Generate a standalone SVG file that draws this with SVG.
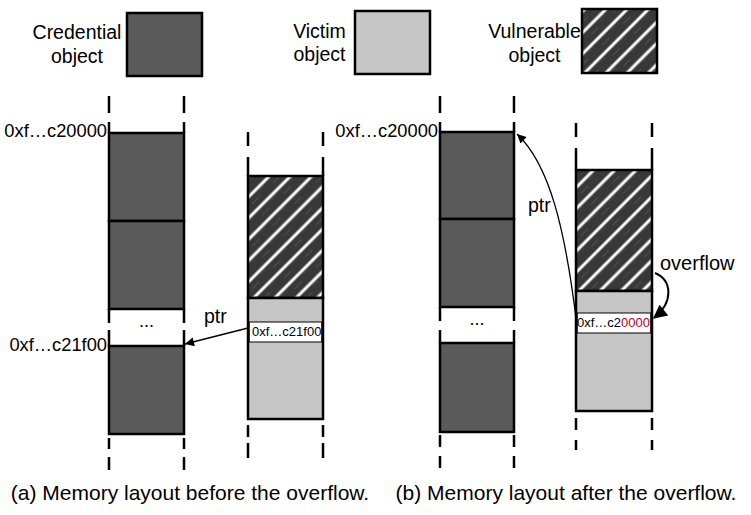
<svg xmlns="http://www.w3.org/2000/svg" width="751" height="515" viewBox="0 0 751 515">
<style>
text{font-family:"Liberation Sans",Arial,Helvetica,sans-serif;fill:#000}
.leg{font-size:19.5px;text-anchor:middle}
.addr{font-size:18.3px;text-anchor:end}
.cap{font-size:21px;text-anchor:middle}
.lbl{font-size:19.5px}
.fld{font-size:13px}
.cred{fill:#5a5a5a;stroke:#000;stroke-width:2.5}
.vic{fill:#c6c6c6;stroke:#000;stroke-width:2.5}
.vul{fill:url(#hatch);stroke:#000;stroke-width:2.5}
.field{fill:#fff;stroke:#000;stroke-width:1}
.dash{fill:none;stroke:#000;stroke-width:2.5}
.conn{fill:none;stroke:#000;stroke-width:1.3}
</style>
<defs>
<pattern id="hatch" patternUnits="userSpaceOnUse" width="30" height="15" patternTransform="rotate(-45)">
<rect width="30" height="15" fill="#fff"/>
<rect x="0" y="1.5" width="30" height="12" fill="#383838"/>
<line x1="4" y1="7.5" x2="14" y2="7.5" stroke="#5c5c5c" stroke-width="0.7"/>
<line x1="19" y1="3" x2="27" y2="3" stroke="#4c4c4c" stroke-width="0.6"/>
</pattern>
<marker id="arr" viewBox="0 0 10 10" refX="10" refY="5" markerWidth="11" markerHeight="9" markerUnits="userSpaceOnUse" orient="auto">
<path d="M0,0 L10,5 L0,10 z" fill="#000"/>
</marker>
<marker id="arrBig" viewBox="0 0 10 10" refX="9" refY="5" markerWidth="16" markerHeight="14" markerUnits="userSpaceOnUse" orient="auto">
<path d="M0,0 L10,5 L0,10 z" fill="#000"/>
</marker>
</defs>

<g id="legend-credential">
<text class="leg" x="77" y="39">Credential</text>
<text class="leg" x="77" y="63">object</text>
<rect class="cred" x="127" y="13" width="75" height="63"/>
</g>
<g id="legend-victim">
<text class="leg" x="319.5" y="38">Victim</text>
<text class="leg" x="319.5" y="61">object</text>
<rect class="vic" x="355" y="11" width="75" height="63"/>
</g>
<g id="legend-vulnerable">
<text class="leg" x="534.5" y="38">Vulnerable</text>
<text class="leg" x="534.5" y="62">object</text>
<rect class="vul" x="582" y="9" width="75" height="64"/>
</g>

<!-- Panel (a) -->
<g id="a-credential-column">
<rect class="cred" x="109" y="133" width="75" height="88"/>
<rect class="cred" x="109" y="221" width="75" height="88"/>
<rect class="cred" x="109" y="346" width="75" height="88"/>
<path class="dash" d="M109 96V113M109 122V133M184 96V113M184 122V133M109 309V323M109 330V346M184 309V323M184 330V346M109 438V449M109 457V470M184 438V449M184 457V470"/>
<text x="146.5" y="327" font-size="18" text-anchor="middle">...</text>
<text class="addr" x="107" y="137">0xf…c20000</text>
<text class="addr" x="107" y="351">0xf…c21f00</text>
</g>
<g id="a-victim-column">
<rect class="vul" x="248" y="176" width="75" height="122"/>
<rect class="vic" x="248" y="298" width="75" height="121"/>
<rect class="field" x="249.3" y="322" width="72.4" height="20"/>
<text class="fld" x="252" y="336">0xf…c21f00</text>
<path class="dash" d="M248 132V146M248 157V176M323 132V146M323 157V176M248 425V437M248 443V458M323 425V437M323 443V458"/>
</g>

<!-- Panel (b) -->
<g id="b-credential-column">
<rect class="cred" x="440" y="132" width="74" height="87"/>
<rect class="cred" x="440" y="219" width="74" height="88"/>
<rect class="cred" x="440" y="343" width="74" height="89"/>
<path class="dash" d="M440 96V113M440 122V132M514 96V113M514 122V132M440 307V321M440 330V343M514 307V321M514 330V343M440 435V447M440 456V468M514 435V447M514 456V468"/>
<text x="477" y="325" font-size="18" text-anchor="middle">...</text>
<text class="addr" x="438" y="137">0xf…c20000</text>
</g>
<g id="b-victim-column">
<rect class="vul" x="576" y="170" width="76" height="121"/>
<rect class="vic" x="576" y="291" width="76" height="120"/>
<rect class="field" x="577.3" y="313" width="73.4" height="20"/>
<text class="fld" x="577" y="327">0xf…c2<tspan fill="#b5001f">0000</tspan></text>
<path class="dash" d="M576 123V137M576 148V170M652 123V137M652 148V170M576 418V430M576 440V450M652 418V430M652 440V450"/>
</g>

<g id="connectors">
<line class="conn" x1="248" y1="328" x2="185" y2="344" marker-end="url(#arr)"/>
<path class="conn" d="M576 318 C565 230 550 165 517 134" marker-end="url(#arr)"/>
<path d="M655 273 C672 280 674 302 654 318" fill="none" stroke="#000" stroke-width="2" marker-end="url(#arrBig)"/>
<text class="lbl" x="204" y="323">ptr</text>
<text class="lbl" x="528" y="212">ptr</text>
<text x="660" y="270" font-size="20">overflow</text>
</g>

<g id="captions">
<text class="cap" x="190" y="500">(a) Memory layout before the overflow.</text>
<text class="cap" x="566" y="500">(b) Memory layout after the overflow.</text>
</g>
</svg>
